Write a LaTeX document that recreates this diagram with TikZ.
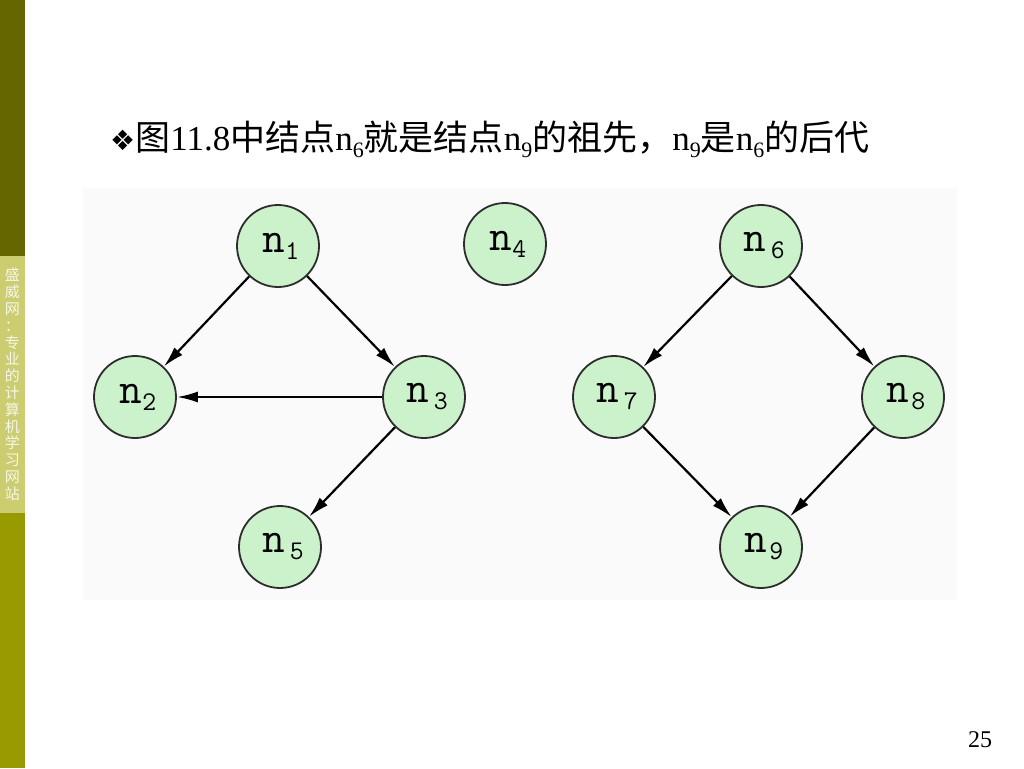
\documentclass[tikz,border=0pt]{standalone}
\usepackage{fontspec}
\setmainfont{Liberation Serif}
\newfontfamily\cjk{Noto Sans CJK SC}
\newfontfamily\symf{DejaVu Sans}
\usetikzlibrary{arrows.meta}
\definecolor{darkolive}{RGB}{102,102,0}
\definecolor{lightolive}{RGB}{204,204,112}
\definecolor{midolive}{RGB}{153,153,0}
\definecolor{nodefill}{RGB}{204,242,204}
\definecolor{nodeline}{RGB}{45,45,45}
\definecolor{panelbg}{RGB}{250,250,250}
\newcommand\tsub[1]{\raisebox{-0.22em}{\fontsize{22}{22}\selectfont #1}}
\newcommand\nlab[2]{\hspace*{6pt}{\ttfamily\fontsize{44}{44}\selectfont n}\hspace{#1}\raisebox{-7pt}{\ttfamily\fontsize{27}{27}\selectfont #2}}
\tikzset{
  gnode/.style={circle, draw=nodeline, line width=1.8pt, fill=nodefill, minimum size=82pt, inner sep=0pt},
  garrow/.style={line width=2.2pt, -{Latex[length=21pt,width=11pt]}},
}
\begin{document}
\begin{tikzpicture}[x=1pt,y=-1pt]
\useasboundingbox (0,0) rectangle (1024,768);
\fill[white] (0,0) rectangle (1024,768);
% left bar
\fill[darkolive] (0,0) rectangle (25,256);
\fill[lightolive] (0,256) rectangle (25,513);
\fill[midolive] (0,513) rectangle (25,768);
\node[font={\cjk\fontsize{15}{16.8}\selectfont}, text=white!85!lightolive, align=center, inner sep=0pt, anchor=north] (side) at (12.5,268)
  {盛\\威\\网\\：\\专\\业\\的\\计\\算\\机\\学\\习\\网\\站};
% diagram panel
\fill[panelbg] (83,188) rectangle (957,600);
% title
\node[anchor=base west, inner sep=0pt, font={\fontsize{35}{35}\selectfont}] (title) at (110,150)
  {{\symf\fontsize{28}{28}\selectfont ❖}{\cjk 图}11.8{\cjk 中结点}n\tsub{6}{\cjk 就是结点}n\tsub{9}{\cjk 的祖先，}n\tsub{9}{\cjk 是}n\tsub{6}{\cjk 的后代}};
% nodes
\node[gnode] (n1) at (278,246) {\nlab{0pt}{1}};
\node[gnode] (n2) at (135,397) {\nlab{0pt}{2}};
\node[gnode] (n3) at (424,397) {\nlab{5pt}{3}};
\node[gnode] (n4) at (505,244) {\nlab{0pt}{4}};
\node[gnode] (n5) at (280,547) {\nlab{5pt}{5}};
\node[gnode] (n6) at (761,246) {\nlab{5pt}{6}};
\node[gnode] (n7) at (614,397) {\nlab{5pt}{7}};
\node[gnode] (n8) at (903,397) {\nlab{2pt}{8}};
\node[gnode] (n9) at (761,547) {\nlab{2pt}{9}};
% edges
\draw[garrow] (n1) -- (n2);
\draw[garrow] (n1) -- (n3);
\draw[garrow] (n3) -- (n2);
\draw[garrow] (n3) -- (n5);
\draw[garrow] (n6) -- (n7);
\draw[garrow] (n6) -- (n8);
\draw[garrow] (n7) -- (n9);
\draw[garrow] (n8) -- (n9);
% page number
\node[font={\fontsize{24}{24}\selectfont}, inner sep=0pt] (page) at (980,740) {25};
\end{tikzpicture}
\end{document}
